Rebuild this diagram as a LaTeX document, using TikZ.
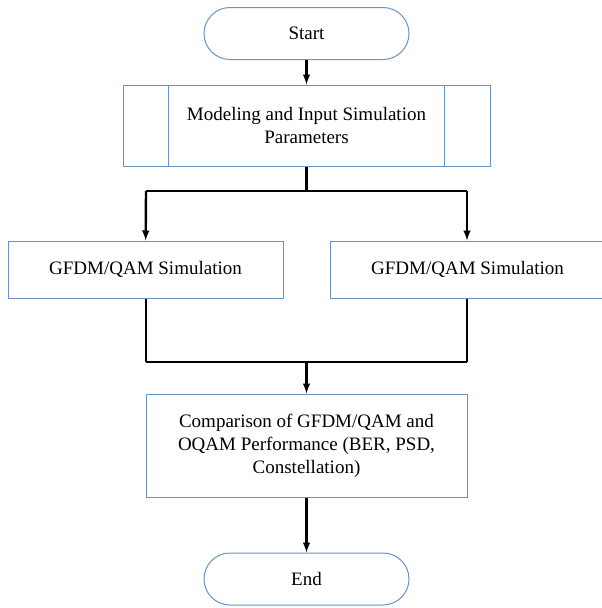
\documentclass[tikz,border=0pt]{standalone}
\usepackage{fontspec}
\setmainfont{Liberation Serif}
\usepackage{tikz}
\usetikzlibrary{arrows}
\usetikzlibrary{calc}

\definecolor{boxblue}{RGB}{104,148,200}

\tikzset{
  terminal/.style={draw=boxblue, line width=1pt, rectangle, rounded corners=26pt,
    minimum width=205pt, minimum height=52pt},
  procbox/.style={draw=boxblue, line width=1pt, rectangle, align=center,
    inner sep=0pt},
  flow/.style={-latex, line width=2.4pt},
  bar/.style={line width=2.4pt},
  thinbar/.style={line width=1.1pt}
}

\begin{document}
\begin{tikzpicture}[x=1pt, y=-1pt, font=\fontsize{19}{23}\selectfont]
    \clip (0,0) rectangle (602,608);
    \fill[white] (0,0) rectangle (602,608);

    \node[terminal] (start) at (306.5, 33.5) {Start};

    \node[procbox, minimum width=367pt, minimum height=81pt] (param) at (306.5, 125.5)
      {Modeling and Input Simulation\\Parameters};
    \draw[draw=boxblue, line width=1pt] ($(param.north west)+(46,0)$) -- ($(param.south west)+(46,0)$);
    \draw[draw=boxblue, line width=1pt] ($(param.north east)+(-46,0)$) -- ($(param.south east)+(-46,0)$);

    \coordinate (splitL) at (146, 191);
    \coordinate (splitM) at (306.5, 191);
    \coordinate (splitR) at (467, 191);

    \node[procbox, minimum width=275pt, minimum height=57pt] (simL) at (145.5, 269.5) {GFDM/QAM Simulation};
    \node[procbox, minimum width=275pt, minimum height=57pt] (simR) at (467.5, 269.5) {GFDM/QAM Simulation};

    \coordinate (joinL) at (146, 362);
    \coordinate (joinM) at (306.5, 362);
    \coordinate (joinR) at (467, 362);

    \node[procbox, minimum width=321pt, minimum height=103pt] (cmp) at (306.5, 445.5)
      {Comparison of GFDM/QAM and\\OQAM Performance (BER, PSD,\\Constellation)};

    \node[terminal] (end) at (306.5, 579) {End};

    \draw[flow] (start) -- (param);
    \draw[bar] (param.south) -- (splitM);
    \draw[thinbar] (splitL) -- (splitR);
    \draw[flow] (splitL) -- (simL);
    \draw[flow] (splitR) -- (simR.north -| splitR);
    \draw[bar] (simL.south -| joinL) -- (joinL);
    \draw[bar] (simR.south -| joinR) -- (joinR);
    \draw[thinbar] (joinL) -- (joinR);
    \draw[flow] (joinM) -- (cmp);
    \draw[flow] (cmp) -- (end);

  \end{tikzpicture}
\end{document}
